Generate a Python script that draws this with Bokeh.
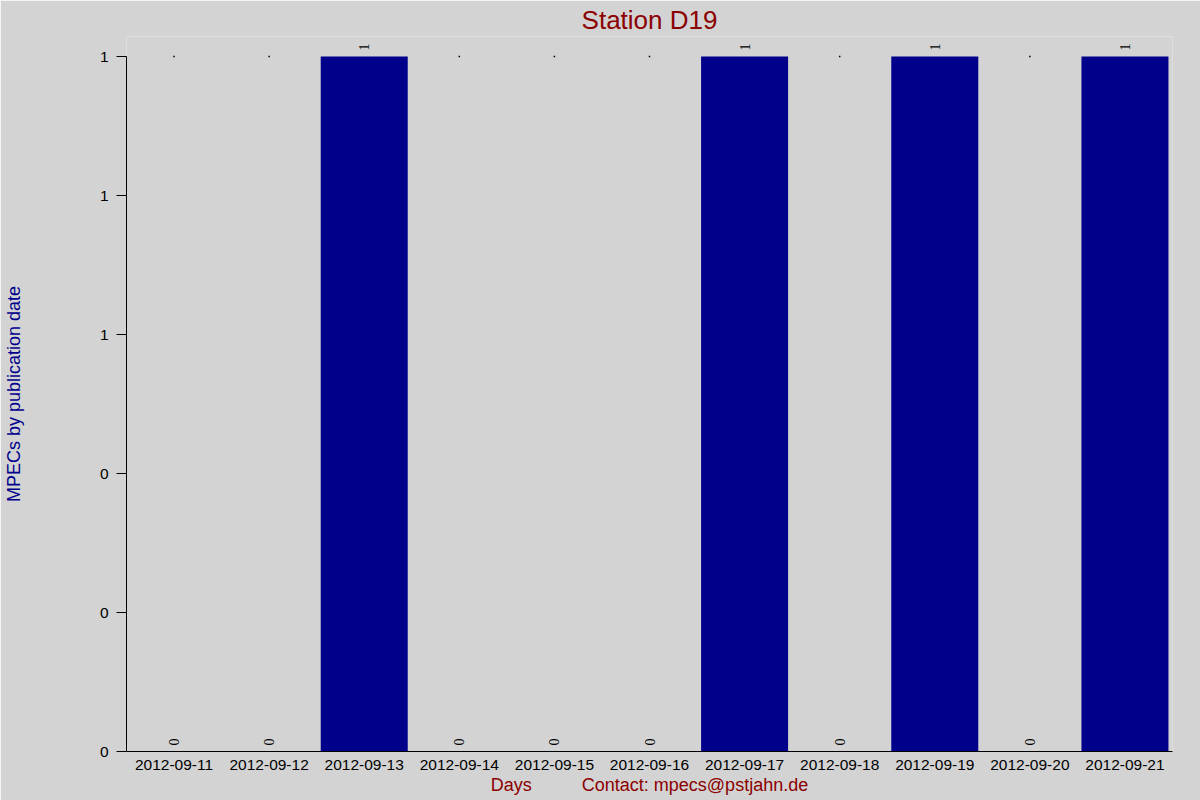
from math import pi
from bokeh.plotting import figure
from bokeh.models import ColumnDataSource, LabelSet, FixedTicker, Range1d, FactorRange
from bokeh.embed import file_html
from bokeh.resources import INLINE

# ---- data ----
days = ["2012-09-11", "2012-09-12", "2012-09-13", "2012-09-14", "2012-09-15", "2012-09-16",
        "2012-09-17", "2012-09-18", "2012-09-19", "2012-09-20", "2012-09-21"]
counts = [0, 0, 1, 0, 0, 0, 1, 0, 1, 0, 1]
y_ticks = [0.0, 0.2, 0.4, 0.6, 0.8, 1.0]
y_tick_labels = ["0", "0", "0", "1", "1", "1"]
title_text = "Station D19"
y_label = "MPECs by publication date"
x_label = "Days" + "\u00a0" * 10 + "Contact: mpecs@pstjahn.de"

FONT = "Liberation Sans"
BG = "#d3d3d3"
BAR = "#00008b"
RED = "#8b0000"

ymax = max(counts)
top_pad = 0.0288  # room above the axis for the value labels (layout only)

src = ColumnDataSource(dict(day=days, count=counts, label=[str(c) for c in counts]))
zero_days = [d for d, c in zip(days, counts) if c == 0]
dots = ColumnDataSource(dict(day=zero_days, y=[ymax] * len(zero_days)))

p = figure(x_range=FactorRange(factors=days), y_range=Range1d(0, ymax * (1 + top_pad)),
           width=1200, height=800, output_backend="svg", toolbar_location=None,
           background_fill_color=BG, border_fill_color=BG,
           min_border_left=126, min_border_right=28, min_border_top=36, min_border_bottom=49)
p.outline_line_color = None
p.xgrid.visible = False
p.ygrid.visible = False

p.vbar(x="day", top="count", width=0.915, source=src, fill_color=BAR, line_color=None)
p.scatter(x="day", y="y", source=dots, marker="square", size=1.5, color="black", line_color=None)

labels = LabelSet(x="day", y="count", text="label", source=src, angle=pi / 2,
                  text_align="left", text_baseline="middle", y_offset=6,
                  text_font_size="14px", text_font=FONT, text_color="black")
p.add_layout(labels)

# title
p.title.text = title_text
p.title.align = "center"
p.title.text_font = FONT
p.title.text_font_size = "26px"
p.title.text_font_style = "normal"
p.title.text_color = RED
p.title.standoff = 4

# y axis
ya = p.yaxis[0]
ya.bounds = (0, ymax)
ya.ticker = FixedTicker(ticks=y_ticks)
ya.major_label_overrides = dict(zip(y_ticks, y_tick_labels))
ya.minor_tick_line_color = None
ya.major_tick_in = 0
ya.major_tick_out = 10
ya.major_label_standoff = 8
ya.major_label_text_font = FONT
ya.major_label_text_font_size = "15.5px"
ya.major_label_text_color = "black"
ya.axis_line_color = "black"
ya.major_tick_line_color = "black"
ya.axis_label = y_label
ya.axis_label_text_font = FONT
ya.axis_label_text_font_size = "18px"
ya.axis_label_text_font_style = "normal"
ya.axis_label_text_color = BAR
ya.axis_label_standoff = 73

# x axis
xa = p.xaxis[0]
xa.major_tick_in = 0
xa.major_tick_out = 0
xa.major_tick_line_color = None
xa.minor_tick_line_color = None
xa.major_label_standoff = 8
xa.major_label_text_font = FONT
xa.major_label_text_font_size = "15.5px"
xa.major_label_text_color = "black"
xa.major_label_orientation = "horizontal"
xa.axis_line_color = "black"
xa.axis_label = x_label
xa.axis_label_text_font = FONT
xa.axis_label_text_font_size = "18px"
xa.axis_label_text_font_style = "normal"
xa.axis_label_text_color = RED
xa.axis_label_standoff = 2

html = file_html(p, INLINE, title="Station D19")
html = html.replace("<body>", '<body style="background-color:#d3d3d3;">', 1)
open("out.html", "w").write(html)
